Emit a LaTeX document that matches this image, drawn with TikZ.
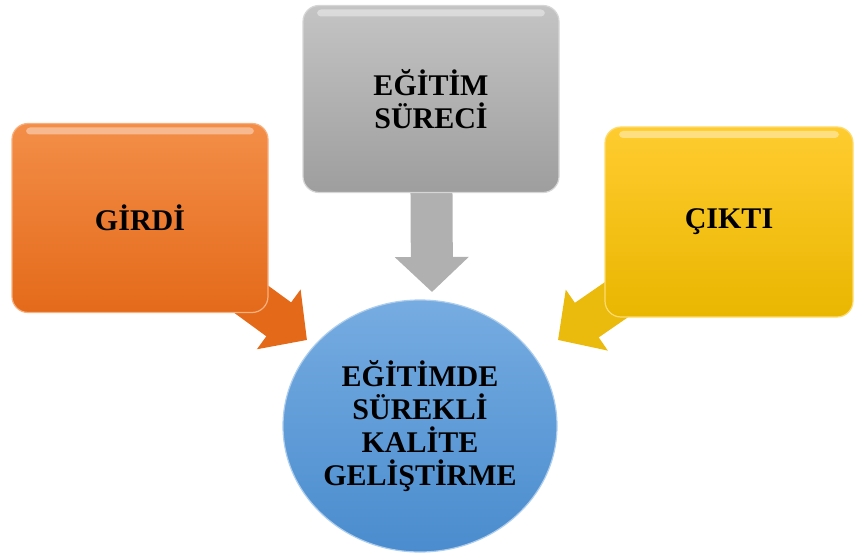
\documentclass[tikz,border=0pt]{standalone}
\usepackage{fontspec}
\setmainfont{Liberation Serif}
\usetikzlibrary{arrows.meta,backgrounds,shapes.geometric}
\definecolor{girditop}{RGB}{243,142,72}
\definecolor{girdibot}{RGB}{228,106,26}
\definecolor{surectop}{RGB}{196,196,196}
\definecolor{surecbot}{RGB}{158,158,158}
\definecolor{ciktitop}{RGB}{255,204,48}
\definecolor{ciktibot}{RGB}{233,182,0}
\definecolor{kalitetop}{RGB}{118,172,225}
\definecolor{kalitebot}{RGB}{74,140,206}

\begin{document}
\begin{tikzpicture}[x=1pt, y=-1pt,
    font=\bfseries\fontsize{30}{33}\selectfont,
    box/.style={rounded corners=16pt, line width=1.2pt, align=center,
        minimum width=256pt, minimum height=189pt,
        path picture={\fill[white, opacity=.4, rounded corners=4pt]
            ([xshift=14pt, yshift=-4pt]path picture bounding box.north west) rectangle
            ([xshift=-14pt, yshift=-11pt]path picture bounding box.north east);}},
    bigarrow/.style={line width=42pt, -{Triangle[length=35pt, width=72pt]}}]
    \useasboundingbox (0, 0) rectangle (854, 556);

    \node (girdi) [box, draw=girditop!70!white, top color=girditop, bottom color=girdibot] at (140, 218) {GİRDİ};
    \node (surec) [box, draw=surectop!70!white, top color=surectop, bottom color=surecbot, minimum height=187pt] at (431, 99) {EĞİTİM\\SÜRECİ};
    \node (cikti) [box, draw=ciktitop!70!white, top color=ciktitop, bottom color=ciktibot, minimum width=248pt, minimum height=190pt] at (729, 222) {ÇIKTI};
    \node (kalite) [ellipse, draw=kalitetop!60!white, line width=1.2pt, top color=kalitetop, bottom color=kalitebot,
        minimum width=274pt, minimum height=252pt, inner sep=0pt, align=center] at (420, 426)
        {EĞİTİMDE\\SÜREKLİ\\KALİTE\\GELİŞTİRME};

    \coordinate (girdi tip) at (307, 340);
    \coordinate (surec tip) at (432, 292);
    \coordinate (cikti tip) at (558, 340);

    \begin{scope}[on background layer]
        \draw[bigarrow, girdibot] (girdi.center) -- (girdi tip);
        \draw[bigarrow, surectop!90!black] (surec.center) -- (surec tip);
        \draw[bigarrow, ciktibot!95!white] (cikti.center) -- (cikti tip);
    \end{scope}
\end{tikzpicture}
\end{document}
